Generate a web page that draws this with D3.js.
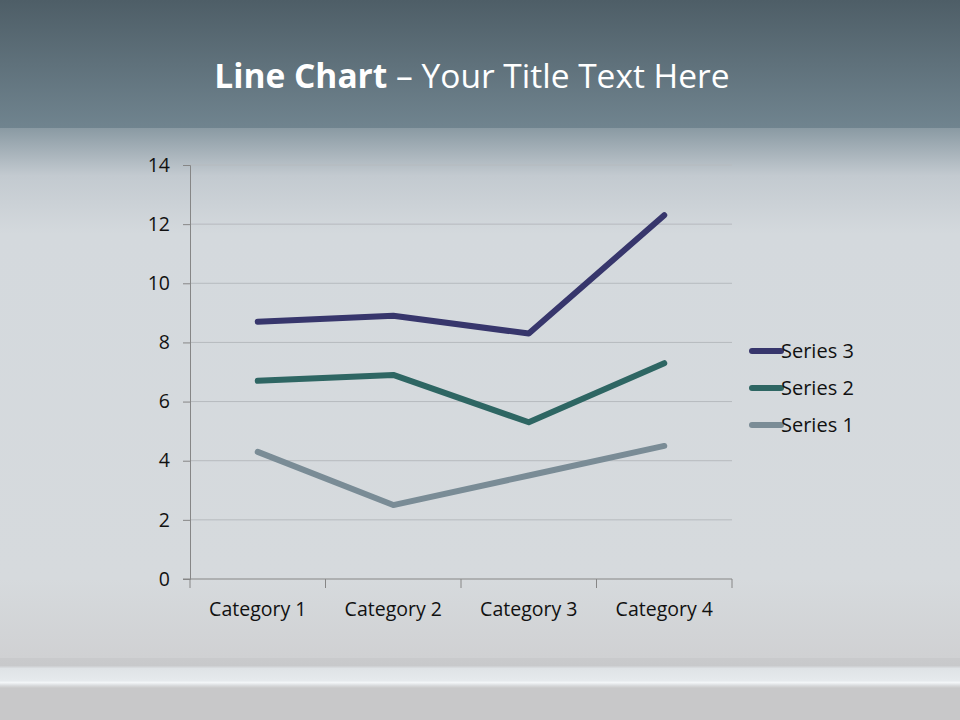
<!DOCTYPE html>
<html>
<head>
<meta charset="utf-8">
<script src="https://cdn.jsdelivr.net/npm/d3@7"></script>
<style>
  html, body { margin: 0; padding: 0; }
  svg { display: block; font-family: "Open Sans", "Noto Sans", sans-serif; }
</style>
</head>
<body>
<svg width="960" height="720"></svg>
<script>
// data (stacked line chart: each series adds on top of the previous one)
const categories = ["Category 1", "Category 2", "Category 3", "Category 4"];
const seriesNames = ["Series 1", "Series 2", "Series 3"];
const series1 = [4.3, 2.5, 3.5, 4.5];
const series2 = [2.4, 4.4, 1.8, 2.8];
const series3 = [2, 2, 3, 5];
const yTicks = [0, 2, 4, 6, 8, 10, 12, 14];
const colors = ["#7a8c96", "#2e6663", "#37366c"];

const svg = d3.select("svg");
const defs = svg.append("defs");

// background
const topGrad = defs.append("linearGradient").attr("id", "topGrad")
    .attr("x1", 0).attr("y1", 0).attr("x2", 0).attr("y2", 1);
topGrad.append("stop").attr("offset", "0%").attr("stop-color", "#4e5e67");
topGrad.append("stop").attr("offset", "100%").attr("stop-color", "#70848f");

const midGrad = defs.append("linearGradient").attr("id", "midGrad")
    .attr("x1", 0).attr("y1", 0).attr("x2", 0).attr("y2", 1);
midGrad.append("stop").attr("offset", "0%").attr("stop-color", "#8a9aa3");
midGrad.append("stop").attr("offset", "9%").attr("stop-color", "#c3cad0");
midGrad.append("stop").attr("offset", "20%").attr("stop-color", "#d4d9dd");
midGrad.append("stop").attr("offset", "85%").attr("stop-color", "#d6dadd");
midGrad.append("stop").attr("offset", "100%").attr("stop-color", "#d0d1d3");

const botGrad = defs.append("linearGradient").attr("id", "botGrad")
    .attr("x1", 0).attr("y1", 0).attr("x2", 0).attr("y2", 1);
botGrad.append("stop").attr("offset", "0%").attr("stop-color", "#c9cacc");
botGrad.append("stop").attr("offset", "25%").attr("stop-color", "#c8c9cb");
botGrad.append("stop").attr("offset", "35%").attr("stop-color", "#dfe3e6");
botGrad.append("stop").attr("offset", "75%").attr("stop-color", "#e6eaed");
botGrad.append("stop").attr("offset", "82%").attr("stop-color", "#f3f6f8");
botGrad.append("stop").attr("offset", "92%").attr("stop-color", "#d8dadc");
botGrad.append("stop").attr("offset", "100%").attr("stop-color", "#c9c9c9");

svg.append("rect").attr("width", 960).attr("height", 128).attr("fill", "url(#topGrad)");
svg.append("rect").attr("y", 128).attr("width", 960).attr("height", 530).attr("fill", "url(#midGrad)");
svg.append("rect").attr("y", 658).attr("width", 960).attr("height", 30).attr("fill", "url(#botGrad)");
svg.append("rect").attr("y", 688).attr("width", 960).attr("height", 32).attr("fill", "#c8c8c9");

// title
const title = svg.append("text")
    .attr("x", 472).attr("y", 88)
    .attr("text-anchor", "middle")
    .attr("fill", "#ffffff")
    .style("font-size", "33.5px");
title.append("tspan").attr("font-weight", "bold").text("Line Chart");
title.append("tspan").text(" \u2013 Your Title Text Here");

// chart
const margin = { left: 190, top: 165, right: 732, bottom: 579 };

const x = d3.scaleBand()
    .domain(categories)
    .range([margin.left, margin.right]);

const y = d3.scaleLinear()
    .domain([0, 14])
    .range([margin.bottom, margin.top]);

const rows = categories.map((c, i) => ({
    cat: c, "Series 1": series1[i], "Series 2": series2[i], "Series 3": series3[i]
}));
const stacked = d3.stack().keys(seriesNames)(rows);

// gridlines
svg.append("g").selectAll("line")
    .data(yTicks.filter(d => d > 0))
    .join("line")
    .attr("x1", margin.left).attr("x2", margin.right)
    .attr("y1", d => y(d)).attr("y2", d => y(d))
    .attr("stroke", "#b6babe").attr("stroke-width", 1);

// axes
const yAxis = svg.append("g")
    .attr("transform", `translate(${margin.left},0)`)
    .call(d3.axisLeft(y).tickValues(yTicks).tickSize(7).tickPadding(13));
yAxis.select(".domain").attr("stroke", "#868686");
yAxis.selectAll(".tick line").attr("stroke", "#868686");
yAxis.selectAll(".tick text").attr("fill", "#111").style("font-size", "19.5px")
    .style("font-family", "'Open Sans', sans-serif");

const xAxis = svg.append("g")
    .attr("transform", `translate(0,${margin.bottom})`)
    .call(d3.axisBottom(x).tickSize(0).tickPadding(23));
xAxis.select(".domain").remove();
xAxis.selectAll(".tick text").attr("fill", "#111").style("font-size", "19.5px")
    .style("font-family", "'Open Sans', sans-serif");

// x axis line with tick marks at band boundaries
const edges = categories.map(c => x(c)).concat([x.range()[1]]);
svg.append("line")
    .attr("x1", margin.left - 7).attr("x2", margin.right)
    .attr("y1", margin.bottom).attr("y2", margin.bottom)
    .attr("stroke", "#868686").attr("stroke-width", 1.2);
svg.append("g").selectAll("line")
    .data(edges)
    .join("line")
    .attr("x1", d => d).attr("x2", d => d)
    .attr("y1", margin.bottom).attr("y2", margin.bottom + 9)
    .attr("stroke", "#868686");

// lines
const line = d3.line()
    .x((d, i) => x(categories[i]) + x.bandwidth() / 2)
    .y(d => y(d[1]));

svg.append("g").selectAll("path")
    .data(stacked)
    .join("path")
    .attr("d", d => line(d))
    .attr("fill", "none")
    .attr("stroke", (d, i) => colors[i])
    .attr("stroke-width", 6)
    .attr("stroke-linecap", "round")
    .attr("stroke-linejoin", "round");

// legend (Series 3 on top)
const legend = svg.append("g").attr("transform", "translate(752,351)");
const legendItems = legend.selectAll("g")
    .data(seriesNames.slice().reverse())
    .join("g")
    .attr("transform", (d, i) => `translate(0,${i * 37})`);
legendItems.append("line")
    .attr("x1", 0).attr("x2", 29)
    .attr("stroke", d => colors[seriesNames.indexOf(d)])
    .attr("stroke-width", 6)
    .attr("stroke-linecap", "round");
legendItems.append("text")
    .attr("x", 29).attr("y", 7)
    .attr("fill", "#111")
    .style("font-size", "20px")
    .text(d => d);
</script>
</body>
</html>
